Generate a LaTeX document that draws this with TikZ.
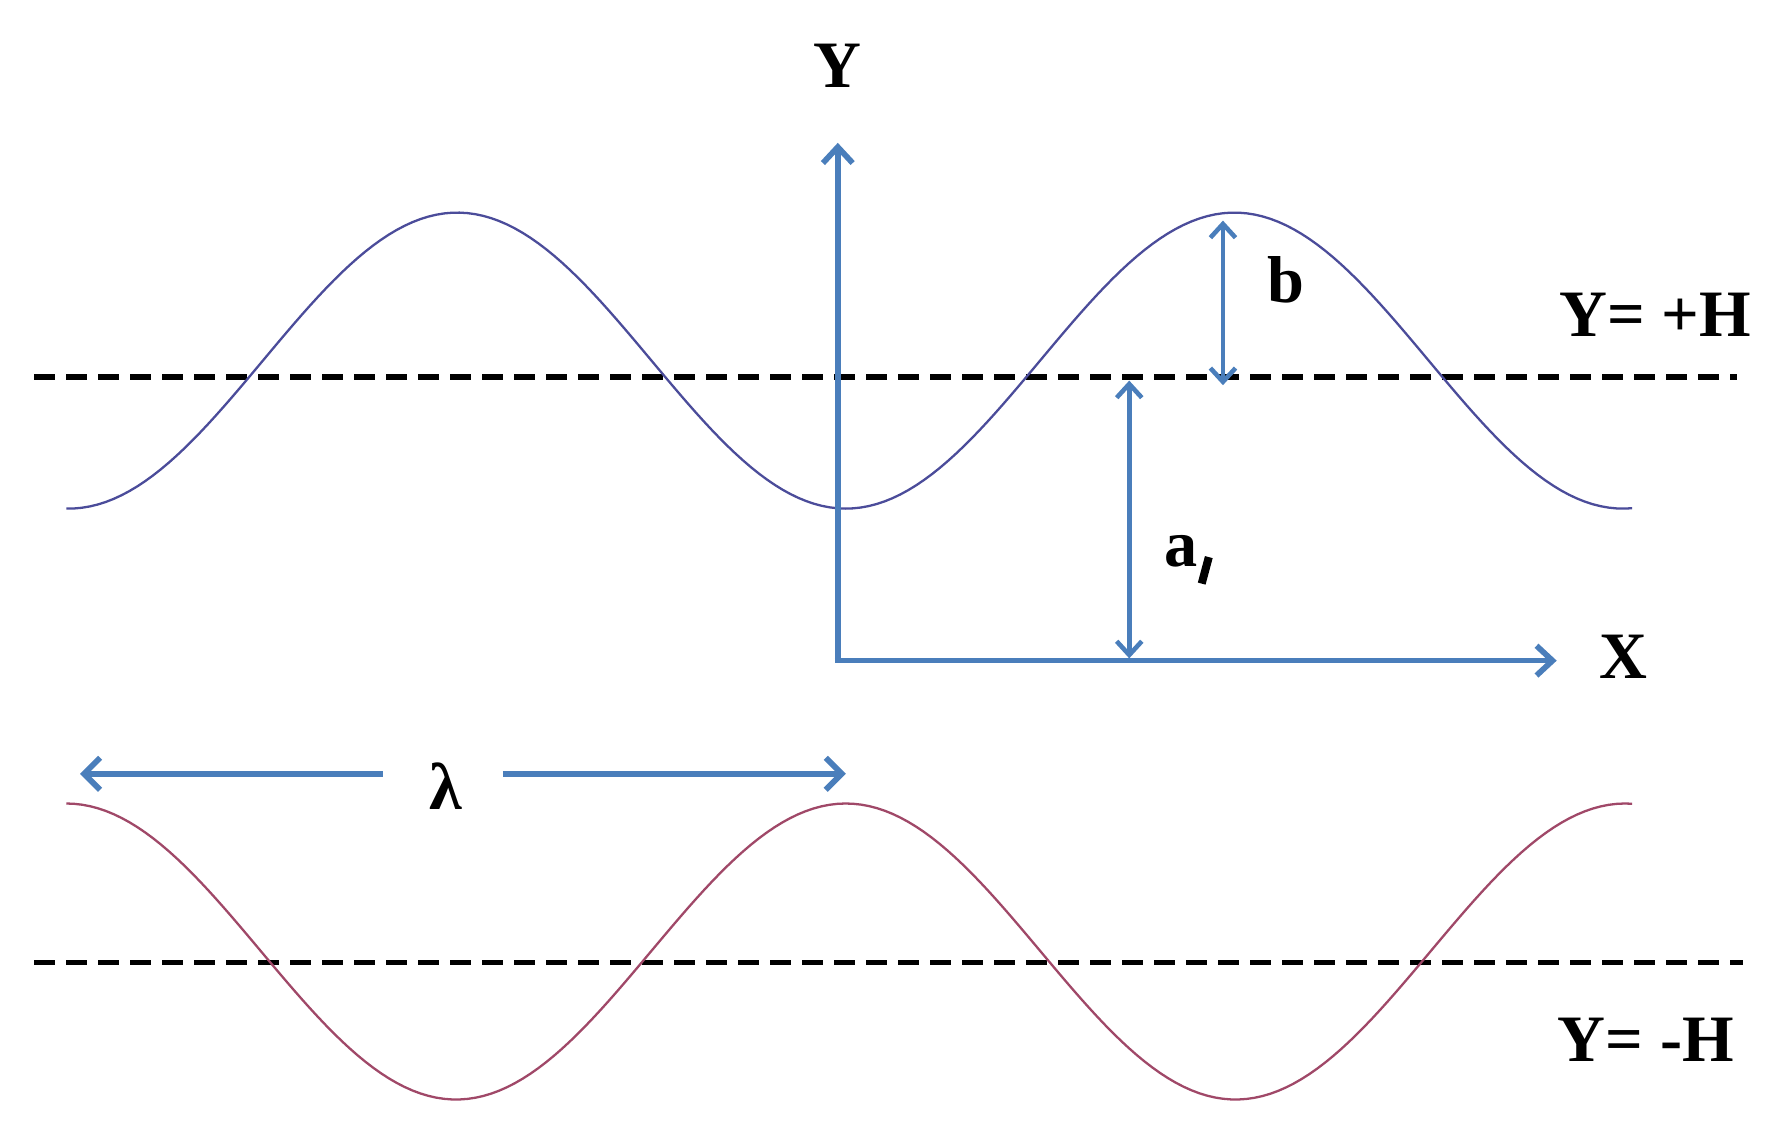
\documentclass[tikz,border=0pt]{standalone}
\usepackage{fontspec}
\setmainfont{Liberation Serif}
\usetikzlibrary{arrows.meta}
\definecolor{axblue}{HTML}{4A7EBB}
\definecolor{wavetop}{HTML}{4B4C9A}
\definecolor{wavebot}{HTML}{A04868}
\tikzset{
  ax/.style={draw=axblue,line width=5pt,-{Straight Barb[length=14pt,width=26pt]}},
  dim/.style={draw=axblue,line width=4pt,{Straight Barb[length=12pt,width=22pt]}-{Straight Barb[length=12pt,width=22pt]}},
  lam/.style={draw=axblue,line width=5pt,-{Straight Barb[length=14pt,width=28pt]}},
  dline/.style={draw=black,line width=5pt,dash pattern=on 18pt off 10pt},
  lbl/.style={font=\fontsize{58}{60}\selectfont\bfseries,inner sep=0pt},
  wave/.style={line width=2pt}
}
\begin{document}
\begin{tikzpicture}[x=1pt,y=-1pt]
\useasboundingbox[fill=white] (0,0) rectangle (1560,990);
% dashed lines
\draw[dline] (30,330) -- (1520,330);
\draw[dline] (30,842) -- (1525,842);
% waves
\draw[wave,draw=wavetop,domain=58:1428,samples=200,variable=\t] plot (\t,{315.5-129.5*cos((\t-400)*0.529412)});
\draw[wave,draw=wavebot,domain=58:1428,samples=200,variable=\t] plot (\t,{832.5-129.5*cos((\t-58)*0.527859)});
% axes
\coordinate (O) at (733,578);
\coordinate (Ytip) at (733,125);
\coordinate (Xtip) at (1362,578);
\draw[ax] (O) -- (Ytip);
\draw[ax] ([xshift=-2.5pt]O) -- (Xtip);
\node[lbl] (Ylab) at (733,58) {Y};
\node[lbl] (Xlab) at (1420,575) {X};
% b
\coordinate (b1) at (1070,193);
\coordinate (b2) at (1070,337);
\draw[dim] (b1) -- (b2);
\node[lbl] (blab) at (1125,245) {b};
% a
\coordinate (a1) at (988,333);
\coordinate (a2) at (988,576);
\draw[dim] (a1) -- (a2);
\node[lbl] (alab) at (1040,490) {a\raisebox{-14pt}{\rotatebox{-15}{\rule{7pt}{24pt}}}};
% lambda
\node[lbl] (lamlab) at (390,688) {λ};
\coordinate (l0) at (335,677);
\coordinate (l1) at (70,677);
\coordinate (l3) at (440,677);
\coordinate (l2) at (740,677);
\draw[lam] (l0) -- (l1);
\draw[lam] (l3) -- (l2);
% H labels
\node[lbl] (Hp) at (1448,275) {Y= +H};
\node[lbl] (Hm) at (1440,910) {Y= -H};
\end{tikzpicture}
\end{document}
